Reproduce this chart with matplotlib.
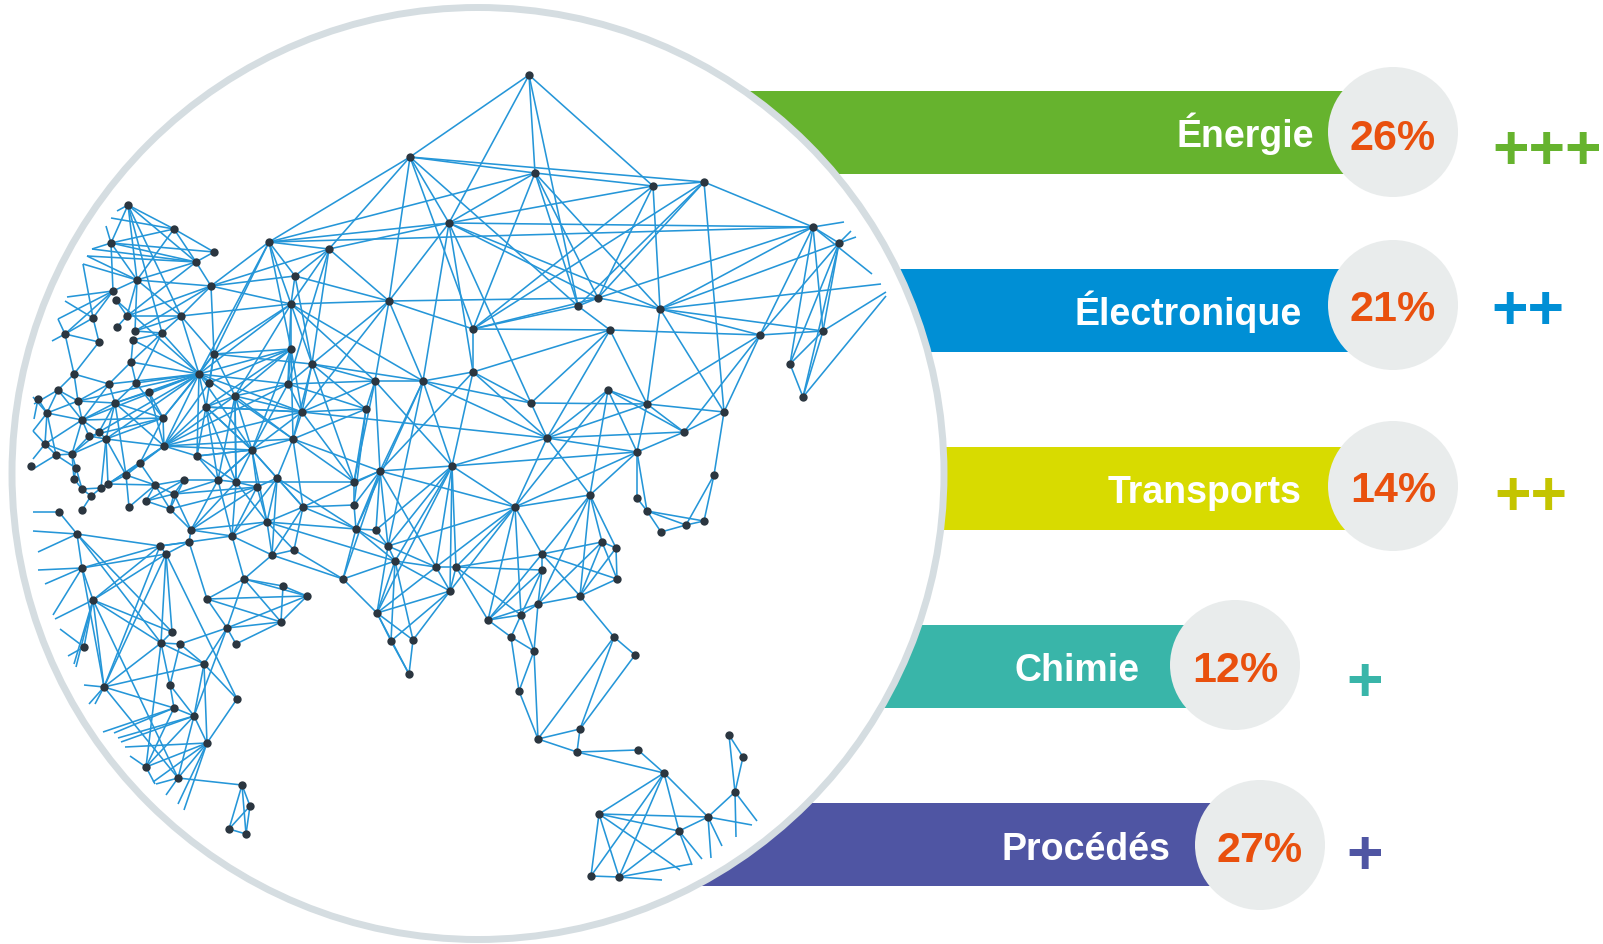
#!/usr/bin/env python3
"""
Infographic: network map in a circle, with five sector bars and their shares.
"""
import matplotlib
matplotlib.use("Agg")
import matplotlib.pyplot as plt
from matplotlib.collections import LineCollection
from matplotlib.patches import Circle, Rectangle

sectors = ['Énergie', 'Électronique', 'Transports', 'Chimie', 'Procédés']
shares = ['26%', '21%', '14%', '12%', '27%']
pluses = ['+++', '++', '++', '+', '+']
bar_colors = ['#66b32e', '#008fd5', '#d8db00', '#39b5a9', '#4f55a3']
plus_colors = ['#66b32e', '#008fd5', '#c4c400', '#39b5a9', '#4f55a3']

# geometry of the bars, in pixels of the picture
bar_tops = [92, 270, 448, 626, 804]
badge_x = [1393, 1393, 1393, 1235, 1260]
badge_y = [133, 306, 487, 666, 846]
label_x = [1314, 1302, 1302, 1140, 1170]
label_y = [147, 325, 503, 681, 860]
share_y = [150, 321, 502, 682, 862]
plus_x = [1547, 1528, 1531, 1365, 1365]
plus_y = [146, 306, 492, 678, 851]

nodes = [
    (128, 206), (174, 230), (111, 244), (214, 253), (196, 263), (137, 281), (211, 287), (113, 292),
    (116, 301), (93, 319), (127, 317), (181, 317), (65, 335), (117, 328), (135, 332), (162, 334),
    (99, 343), (133, 341), (214, 355), (131, 363), (74, 375), (199, 375), (109, 385), (136, 384),
    (209, 384), (58, 391), (149, 393), (78, 402), (115, 404), (38, 400), (47, 414), (82, 421),
    (163, 419), (99, 433), (89, 437), (106, 440), (45, 445), (164, 447), (56, 456), (72, 455),
    (31, 467), (140, 464), (76, 469), (74, 480), (126, 476), (108, 485), (101, 489), (82, 490),
    (91, 497), (155, 486), (146, 502), (174, 495), (129, 508), (170, 510), (82, 511), (59, 513),
    (184, 481), (218, 481), (236, 483), (197, 457), (252, 451), (235, 397), (206, 408), (77, 535),
    (191, 531), (189, 543), (232, 537), (257, 488), (277, 479), (303, 508), (267, 523), (293, 440),
    (302, 413), (288, 385), (291, 350), (312, 365), (291, 305), (295, 277), (269, 243), (329, 250),
    (389, 302), (410, 158), (449, 224), (529, 76), (535, 174), (653, 187), (704, 183), (813, 228),
    (839, 244), (598, 299), (578, 307), (660, 310), (473, 330), (610, 331), (760, 336), (823, 332),
    (790, 365), (803, 398), (375, 382), (423, 382), (473, 373), (366, 410), (531, 404), (608, 391),
    (647, 405), (724, 413), (684, 433), (547, 439), (637, 453), (452, 467), (380, 472), (714, 476),
    (354, 483), (354, 506), (356, 530), (376, 531), (388, 547), (395, 562), (436, 568), (456, 568),
    (343, 580), (450, 592), (377, 614), (391, 642), (413, 641), (409, 675), (515, 508), (590, 496),
    (637, 499), (647, 512), (661, 533), (686, 526), (704, 522), (542, 555), (542, 571), (602, 543),
    (616, 549), (617, 580), (580, 597), (538, 605), (521, 616), (488, 621), (511, 638), (534, 652),
    (519, 692), (614, 638), (635, 656), (580, 730), (538, 740), (577, 753), (638, 751), (664, 774),
    (729, 736), (743, 758), (735, 793), (599, 815), (708, 818), (679, 832), (591, 877), (619, 878),
    (160, 547), (166, 555), (272, 556), (294, 551), (82, 569), (93, 601), (244, 580), (283, 587),
    (307, 597), (207, 600), (281, 623), (227, 629), (172, 633), (161, 644), (180, 645), (236, 645),
    (84, 648), (204, 665), (170, 686), (104, 688), (237, 700), (174, 709), (194, 717), (207, 744),
    (146, 768), (178, 779), (242, 786), (250, 807), (229, 830), (246, 835),
]

edges = [
    # north and east
    (83, 81), (83, 82), (83, 84), (83, 90), (83, 85), (81, 84), (81, 86), (81, 78), (81, 79), (81, 80),
    (81, 82), (81, 92), (81, 90), (84, 85), (84, 82), (84, 78), (84, 92), (84, 90), (84, 89), (84, 91),
    (85, 86), (85, 82), (85, 92), (85, 89), (85, 91), (86, 87), (86, 89), (86, 92), (86, 105), (86, 90),
    (82, 78), (82, 79), (82, 87), (82, 80), (82, 100), (82, 99), (82, 102), (82, 89), (82, 91),
    (78, 87), (78, 79), (78, 6), (78, 77), (78, 76), (78, 18), (78, 74), (78, 21),
    (79, 6), (79, 80), (79, 76), (79, 77), (79, 75), (79, 73), (77, 6), (77, 76), (77, 80), (77, 75),
    (76, 6), (76, 80), (76, 18), (76, 74), (76, 21), (76, 75), (76, 99), (76, 98), (76, 73),
    (80, 89), (80, 92), (80, 99), (80, 98), (80, 75), (80, 72), (89, 91), (89, 90), (89, 92), (90, 92),
    (90, 93), (91, 87), (91, 88), (91, 94), (91, 95), (91, 104), (91, 105), (92, 93), (92, 100),
    (93, 94), (93, 100), (93, 102), (93, 104), (93, 107), (94, 95), (94, 105), (94, 104), (94, 87), (94, 106),
    (87, 88), (87, 96), (87, 95), (88, 94), (88, 96), (88, 95), (88, 97), (87, 89), (95, 96), (95, 97),
    (96, 97), (100, 99), (100, 102), (100, 109), (100, 110), (102, 104), (102, 99), (102, 107),
    (103, 104), (103, 106), (103, 107), (103, 108), (103, 126), (103, 127), (104, 105), (104, 106),
    (104, 107), (104, 108), (105, 111), (105, 106), (106, 108), (106, 107), (107, 108), (107, 109),
    (107, 126), (107, 127), (107, 72), (107, 99), (107, 100), (108, 128), (108, 109), (108, 129),
    (108, 126), (108, 127), (111, 132), (111, 131), (128, 129), (129, 130), (129, 131), (129, 132),
    (130, 131), (131, 132),
    # middle
    (98, 99), (98, 101), (98, 110), (98, 109), (98, 72), (98, 73), (98, 75), (98, 112), (99, 110),
    (99, 109), (99, 114), (99, 116), (99, 75), (101, 72), (101, 73), (101, 71), (72, 73), (72, 74),
    (72, 61), (72, 71), (72, 60), (72, 62), (72, 112), (73, 61), (73, 74), (73, 75), (73, 60), (73, 37),
    (74, 18), (74, 61), (74, 62), (74, 21), (74, 71), (74, 60), (75, 71), (75, 72), (75, 101), (75, 112),
    (71, 60), (71, 61), (71, 69), (71, 112), (71, 68), (71, 110), (71, 37), (72, 37),
    (60, 61), (60, 62), (60, 37), (60, 59), (60, 58), (60, 67), (60, 68), (60, 69), (60, 70), (60, 57),
    (69, 110), (69, 113), (69, 114), (69, 70), (69, 68), (69, 162), (109, 110), (109, 116), (109, 117),
    (109, 118), (109, 119), (109, 121), (109, 122), (109, 126), (109, 115), (110, 112), (110, 113),
    (110, 114), (110, 115), (110, 116), (110, 118), (110, 120), (110, 126), (112, 113), (112, 101),
    (113, 101), (113, 114), (114, 115), (114, 116), (114, 117), (114, 120), (114, 68), (114, 70),
    (115, 116), (116, 118), (116, 122), (116, 117), (116, 126), (117, 118), (117, 121), (117, 122),
    (117, 123), (117, 124), (117, 120), (117, 70), (118, 119), (118, 121), (118, 122), (118, 126),
    (119, 121), (119, 133), (119, 134), (119, 140), (119, 141), (119, 126), (120, 122), (120, 162),
    (120, 163), (121, 122), (121, 123), (121, 124), (122, 123), (122, 124), (122, 125), (123, 125),
    (124, 125), (58, 112),
    # south east
    (126, 127), (126, 133), (126, 140), (126, 141), (126, 121), (127, 135), (127, 136), (127, 138),
    (127, 139), (127, 133), (133, 134), (133, 135), (133, 137), (133, 138), (133, 141), (134, 139),
    (134, 140), (134, 141), (135, 136), (135, 137), (135, 138), (135, 139), (136, 137), (136, 138),
    (137, 138), (138, 139), (138, 145), (139, 140), (139, 141), (139, 143), (140, 141), (140, 142),
    (140, 143), (141, 142), (142, 143), (142, 144), (143, 144), (143, 148), (144, 148), (145, 146),
    (145, 148), (145, 147), (146, 147), (147, 148), (147, 149), (148, 149), (149, 150), (149, 151),
    (150, 151), (151, 155), (151, 158), (151, 159), (151, 157), (151, 156), (155, 156), (155, 157),
    (155, 158), (155, 159), (157, 156), (157, 159), (158, 159), (154, 156), (152, 153), (153, 154),
    (152, 154),
    # Scandinavia
    (0, 1), (0, 2), (0, 5), (0, 4), (0, 15), (0, 11), (1, 2), (1, 3), (1, 4), (1, 5), (2, 3), (2, 4),
    (2, 5), (2, 7), (4, 5), (4, 6), (4, 3), (4, 10), (5, 6), (5, 7), (5, 10), (5, 11), (5, 14),
    (7, 9), (7, 12), (6, 18), (6, 11), (6, 10), (6, 14), (11, 10), (11, 15), (11, 14), (11, 21),
    (11, 76), (15, 14), (15, 17), (15, 19), (15, 23), (15, 21), (12, 16), (12, 9), (9, 16), (16, 20),
    (12, 20), (8, 10), (8, 21), (10, 13), (17, 21), (17, 19), (19, 23), (19, 22), (20, 22), (20, 27),
    (20, 25),
    # central Europe
    (18, 11), (18, 21), (18, 32), (18, 75), (18, 62), (18, 24), (74, 24), (21, 22), (21, 23), (21, 24),
    (21, 26), (21, 32), (21, 37), (21, 27), (21, 28), (21, 62), (21, 31), (21, 73), (21, 72), (21, 19),
    (21, 59), (21, 71), (21, 60), (21, 35), (21, 33), (37, 24),
    (61, 62), (61, 37), (61, 18), (61, 76), (61, 57), (61, 58), (62, 37), (62, 59), (62, 60), (62, 72),
    (32, 37), (32, 26), (32, 28), (32, 31), (32, 35), (32, 34), (32, 23), (32, 41), (37, 59), (37, 28),
    (37, 35), (37, 41), (37, 44), (37, 45), (37, 26), (27, 25), (27, 30), (27, 31), (27, 22), (27, 28),
    (28, 22), (28, 23), (28, 26), (28, 31), (28, 35), (28, 33), (28, 44), (31, 22), (31, 25), (31, 30),
    (31, 36), (31, 39), (31, 33), (31, 34), (25, 30), (30, 36), (30, 29), (30, 38), (36, 38), (36, 39),
    (38, 39), (38, 42), (39, 33), (39, 42), (39, 43), (39, 35), (39, 34), (42, 43), (42, 47), (43, 47),
    (47, 46), (46, 45), (47, 48), (46, 48), (48, 54), (35, 45), (35, 44), (35, 34), (35, 33), (35, 46),
    (44, 45), (44, 52), (44, 41), (44, 49), (41, 45), (41, 49), (45, 49), (49, 56), (49, 50), (49, 51),
    (49, 52), (49, 53), (56, 57), (56, 51), (56, 53), (56, 50), (57, 58), (57, 59), (57, 51), (57, 64),
    (57, 60), (57, 62), (57, 66), (58, 59), (58, 67), (58, 61), (58, 64), (58, 62), (58, 70), (59, 60),
    (51, 50), (51, 53), (51, 64), (51, 67), (53, 50), (53, 64), (53, 67), (64, 65), (64, 66), (64, 67),
    (64, 70), (65, 66), (65, 160), (66, 67), (66, 70), (66, 68), (66, 58), (66, 162), (66, 166),
    (67, 68), (67, 70), (68, 70), (68, 162), (70, 163), (70, 162), (162, 163), (162, 166), (163, 69),
    # Arabia, Africa
    (166, 167), (166, 168), (166, 169), (166, 170), (166, 171), (167, 168), (167, 170), (168, 170),
    (168, 169), (168, 171), (169, 170), (169, 171), (169, 65), (170, 171), (170, 175), (171, 175),
    (171, 174), (171, 177), (63, 55), (63, 164), (63, 160), (63, 172), (63, 173), (160, 161), (160, 164),
    (160, 165), (161, 164), (161, 165), (161, 172), (161, 173), (161, 179), (160, 179), (161, 180),
    (160, 65), (161, 65), (164, 165), (164, 179), (165, 172), (165, 173), (165, 176), (165, 179),
    (165, 185), (172, 173), (173, 174), (173, 177), (173, 178), (173, 179), (173, 184), (174, 177),
    (174, 178), (177, 179), (177, 180), (177, 182), (177, 183), (171, 182), (178, 181), (178, 182),
    (179, 181), (179, 185), (181, 182), (181, 184), (182, 183), (182, 184), (182, 185), (180, 183),
    (183, 184), (183, 185), (185, 186), (186, 187), (186, 188), (186, 189), (187, 188), (187, 189),
    (188, 189),
]

# lines that run out of the map, from a node to a loose end
stubs = [
    (1, 111, 219), (0, 117, 212), (2, 106, 227), (2, 92, 250), (4, 92, 250), (4, 87, 257), (5, 87, 257),
    (5, 83, 265), (9, 83, 265), (7, 67, 298), (9, 65, 302), (7, 58, 320), (12, 52, 342), (12, 58, 320),
    (25, 34, 405), (29, 34, 420), (30, 33, 432), (36, 33, 432), (36, 33, 460), (38, 33, 470), (30, 33, 398),
    (55, 33, 513), (63, 33, 532), (63, 38, 553), (164, 38, 571), (164, 45, 585), (164, 53, 616),
    (165, 55, 620), (165, 74, 665), (165, 76, 668), (176, 68, 657), (176, 60, 630), (179, 84, 686),
    (179, 89, 705), (179, 95, 705), (181, 103, 733), (181, 114, 734), (182, 118, 739), (182, 121, 743),
    (183, 125, 748), (183, 153, 783), (183, 178, 805), (183, 184, 811), (184, 130, 757), (184, 155, 785),
    (185, 156, 785), (185, 166, 796),
    (87, 844, 223), (87, 872, 275), (88, 851, 232), (88, 856, 238), (91, 881, 285), (95, 886, 293),
    (97, 886, 297), (154, 757, 822), (154, 736, 838), (156, 752, 826), (156, 722, 847), (156, 711, 859),
    (157, 702, 860), (157, 692, 866), (155, 680, 871), (159, 691, 865), (159, 662, 881),
]

fig = plt.figure(figsize=(16.03, 9.45), dpi=100)
ax = fig.add_axes([0, 0, 1, 1])
ax.set_xlim(0, 1603)
ax.set_ylim(945, 0)
ax.axis('off')

for i in range(len(sectors)):
    ax.add_patch(Rectangle((600, bar_tops[i]), badge_x[i] - 600, 83,
                           facecolor=bar_colors[i], edgecolor='none', zorder=1))

ax.add_patch(Circle((478, 474.5), 466, facecolor='white', edgecolor='#d5dde1',
                    linewidth=5, zorder=2))

segments = [[nodes[a], nodes[b]] for a, b in edges]
segments += [[nodes[n], (x, y)] for n, x, y in stubs]
ax.add_collection(LineCollection(segments, colors='#2596d8', linewidths=1.15, zorder=3))

ax.scatter([p[0] for p in nodes], [p[1] for p in nodes], s=36, color='#2b3640',
           linewidths=0, zorder=4)

font = ['Liberation Sans', 'DejaVu Sans']
for i in range(len(sectors)):
    ax.add_patch(Circle((badge_x[i], badge_y[i]), 65, facecolor='#e9ecec',
                        edgecolor='none', zorder=5))
    ax.text(label_x[i], label_y[i], sectors[i], color='white', fontsize=27,
            fontweight='bold', family=font, ha='right', va='baseline', zorder=6)
    ax.text(badge_x[i], share_y[i], shares[i], color='#e9500e', fontsize=31,
            fontweight='bold', family=font, ha='center', va='baseline', zorder=6)
    ax.text(plus_x[i], plus_y[i], pluses[i], color=plus_colors[i], fontsize=45,
            fontweight='bold', family=font, ha='center', va='center_baseline', zorder=6)

fig.savefig('out.png', dpi=100)
